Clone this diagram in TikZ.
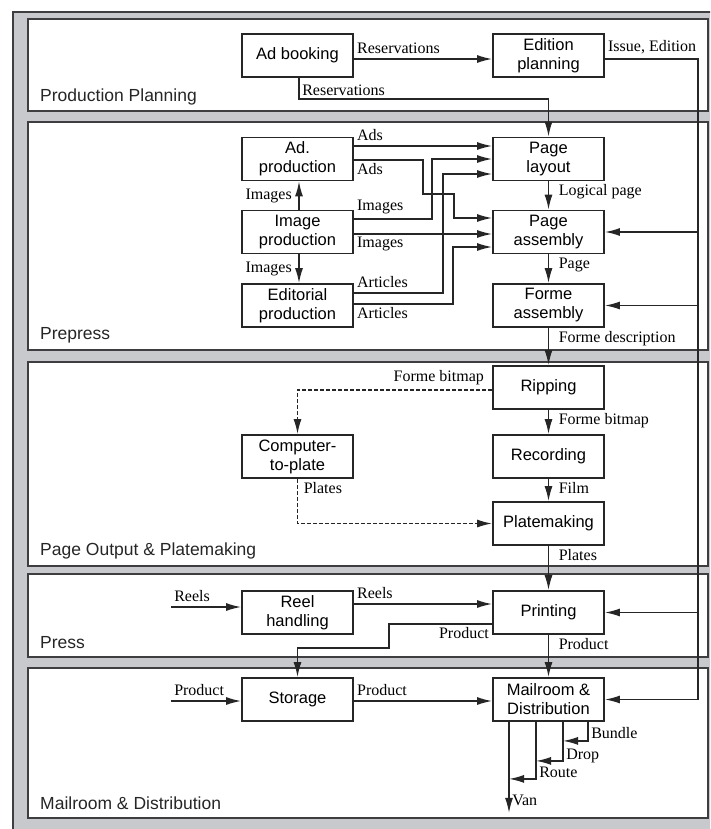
\documentclass[tikz,border=0pt]{standalone}
\usepackage{fontspec}
\setmainfont{Liberation Serif}
\newfontfamily\boxfont{Liberation Sans}
\usetikzlibrary{arrows.meta}
\definecolor{framegray}{RGB}{200,201,205}
\definecolor{rimgray}{RGB}{62,62,64}
\begin{document}
\begin{tikzpicture}[x=1pt,y=-1pt]
    \tikzstyle{panel}=[fill=white,draw=rimgray,line width=2pt]
    \tikzstyle{panellbl}=[anchor=base west,inner sep=0pt,text=black!85,font=\boxfont\fontsize{17.5}{20}\selectfont]
    \tikzstyle{procbox}=[draw=black!85,line width=1.8pt,fill=white,minimum width=111pt,minimum height=43pt,inner sep=0pt,align=center,font=\boxfont\fontsize{16.5}{19}\selectfont]
    \tikzstyle{arr}=[-{Latex[length=15pt,width=8pt]},line width=1.5pt,draw=black!85]
    \tikzstyle{dasharr}=[arr,dash pattern=on 4pt off 2pt]
    \tikzstyle{lbl}=[inner sep=2.5pt,font=\fontsize{16}{18}\selectfont]
    \tikzstyle{lblup}=[lbl,above right,pos=0,yshift=2pt]
    \tikzstyle{lbldown}=[lbl,below right,pos=0]
    \tikzstyle{lblvert}=[lbl,below right,pos=0,xshift=7pt]
    \useasboundingbox (0,0) rectangle (710,829);
    \clip (0,0) rectangle (710,829);
    \fill[white] (0,0) rectangle (710,829);
    \draw[fill=framegray,draw=rimgray,line width=2.5pt] (13,12) rectangle (760,870);

    % panels
    \draw[panel] (28,19.5) rectangle (708,111);
    \draw[panel] (28,122) rectangle (708,350);
    \draw[panel] (28,362) rectangle (708,566);
    \draw[panel] (28,574) rectangle (708,657);
    \draw[panel] (28,668) rectangle (708,818);
    \node[panellbl] (tplanning) at (40,102) {Production Planning};
    \node[panellbl] (tprepress) at (40,339) {Prepress};
    \node[panellbl] (toutput) at (40,555) {Page Output \& Platemaking};
    \node[panellbl] (tpress) at (40,648) {Press};
    \node[panellbl] (tmailroom) at (40,809) {Mailroom \& Distribution};

    % boxes
    \node[procbox] (adbook) at (297.5,55.5) {Ad booking};
    \node[procbox] (edplan) at (548.5,55.5) {Edition\\planning};
    \node[procbox] (adprod) at (297.5,159) {Ad.\\production};
    \node[procbox] (pglayout) at (548.5,159) {Page\\layout};
    \node[procbox] (imgprod) at (297.5,232) {Image\\production};
    \node[procbox] (pgassembly) at (548.5,232) {Page\\assembly};
    \node[procbox] (editprod) at (297.5,305.5) {Editorial\\production};
    \node[procbox] (formeasm) at (548.5,305.5) {Forme\\assembly};
    \node[procbox] (ripping) at (548.5,387.5) {Ripping};
    \node[procbox] (ctp) at (297.5,456.5) {Computer-\\to-plate};
    \node[procbox] (recording) at (548.5,456.5) {Recording};
    \node[procbox] (platemaking) at (548.5,523.5) {Platemaking};
    \node[procbox] (reel) at (297.5,612.5) {Reel\\handling};
    \node[procbox] (printing) at (548.5,612.5) {Printing};
    \node[procbox] (storage) at (297.5,699.5) {Storage};
    \node[procbox] (mailroom) at (548.5,699.5) {Mailroom \&\\Distribution};

    % planning
    \draw[arr] ([yshift=-3.5pt]adbook.east) -- node[lblup] (lres) {Reservations} ([yshift=-3.5pt]edplan.west);
    \draw[arr] ([xshift=1.5pt]adbook.south) -- ++(0,21) node[lbl,above right] (lresdown) {Reservations} -| (pglayout.north);
    \coordinate (fbtop) at (698,59);
    \draw[arr] ([yshift=-3.5pt]edplan.east) -- node[lblup] (lissue) {Issue, Edition} (fbtop) |- (mailroom.east);
    \draw[arr] (fbtop |- pgassembly.east) -- (pgassembly.east);
    \draw[arr] (fbtop |- formeasm.east) -- (formeasm.east);
    \draw[arr] (fbtop |- printing.east) -- (printing.east);

    % prepress
    \draw[arr] ([yshift=13pt]adprod.east) -- node[lblup] (lads) {Ads} ([yshift=13pt]pglayout.west);
    \draw[arr] ([yshift=-1pt]adprod.east) -- node[lbldown] (lads2) {Ads} ++(69,0) -- ++(0,34) -- ++(31,0) |- ([yshift=14pt]pgassembly.west);
    \draw[arr] ([yshift=13pt]imgprod.east) -- node[lblup] (limg) {Images} ++(78,0) |- (pglayout.west);
    \draw[arr] ([yshift=-2pt]imgprod.east) -- node[lbldown] (limg2) {Images} ([yshift=-2pt]pgassembly.west);
    \draw[arr] ([yshift=12.5pt]editprod.east) -- node[lblup] (lart) {Articles} ++(89,0) |- ([yshift=-15pt]pglayout.west);
    \draw[arr] ([yshift=1.5pt]editprod.east) -- node[lbldown] (lart2) {Articles} ++(99,0) |- ([yshift=-15pt]pgassembly.west);
    \draw[arr] ([xshift=1.5pt]imgprod.north) -- node[lbl,left=4pt] (limgup) {Images} ([xshift=1.5pt]adprod.south);
    \draw[arr] ([xshift=1.5pt]imgprod.south) -- node[lbl,left=4pt] (limgdown) {Images} ([xshift=1.5pt]editprod.north);
    \draw[arr] (pglayout.south) -- node[lblvert] (llogical) {Logical page} (pgassembly.north);
    \draw[arr] (pgassembly.south) -- node[lblvert] (lpage) {Page} (formeasm.north);
    \draw[arr] (formeasm.south) -- node[lblvert] (lformedesc) {Forme description} (ripping.north);

    % page output
    \draw[arr] (ripping.south) -- node[lblvert] (lbitmap) {Forme bitmap} (recording.north);
    \draw[arr] (recording.south) -- node[lblvert] (lfilm) {Film} (platemaking.north);
    \draw[arr] (platemaking.south) -- node[lblvert] (lplates) {Plates} (printing.north);
    \draw[dasharr] ([yshift=-2.5pt]ripping.west) -- node[lbl,above left,pos=0,xshift=-5pt,yshift=2pt] (lbitmap2) {Forme bitmap} ([yshift=-2.5pt]ripping.west -| ctp.north) -- (ctp.north);
    \draw[dasharr] (ctp.south) -- node[lbl,below right,pos=0,xshift=3pt] (lplates2) {Plates} (ctp.south |- platemaking.west) -- (platemaking.west);

    % press
    \coordinate (reelsin) at (171,607);
    \draw[arr] (reelsin) -- node[lblup] (lreels) {Reels} (reelsin -| reel.west);
    \draw[arr] ([yshift=8.5pt]reel.east) -- node[lblup] (lreels2) {Reels} ([yshift=8.5pt]printing.west);
    \draw[arr] ([yshift=-11.5pt]printing.west) -- node[lbl,below left,pos=0] (lproduct) {Product} ++(-103,0) -- ++(0,24) -| (storage.north);
    \draw[arr] (printing.south) -- node[lblvert] (lproduct2) {Product} (mailroom.north);

    % mailroom
    \coordinate (productin) at (171,701);
    \draw[arr] (productin) -- node[lblup] (lproductin) {Product} (productin -| storage.west);
    \draw[arr] ([yshift=-1.5pt]storage.east) -- node[lblup] (lproduct3) {Product} ([yshift=-1.5pt]mailroom.west);
    \draw[arr] ([xshift=39.5pt]mailroom.south) -- node[lbl,right,pos=0.6] (lbundle) {Bundle} ++(0,19) -- ++(-25,0);
    \draw[arr] ([xshift=14.5pt]mailroom.south) -- node[lbl,right,pos=0.87] (ldrop) {Drop} ++(0,39) -- ++(-27,0);
    \draw[arr] ([xshift=-12.5pt]mailroom.south) -- node[lbl,right,pos=0.89] (lroute) {Route} ++(0,57) -- ++(-27,0);
    \draw[arr] ([xshift=-39.5pt]mailroom.south) -- node[lbl,right,pos=0.86] (lvan) {Van} ++(0,91);
\end{tikzpicture}
\end{document}
